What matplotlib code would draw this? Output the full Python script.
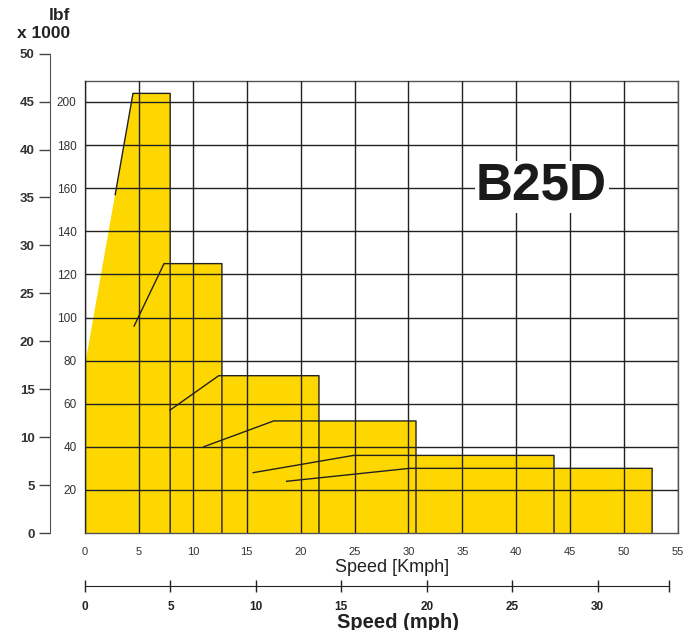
import numpy as np
import matplotlib.pyplot as plt

plt.rcParams['font.family'] = ['Liberation Sans', 'DejaVu Sans']

# data: tractive force per gear (kN) vs speed (km/h)
gear_end_kmph = [7.9, 12.7, 21.7, 30.7, 43.5, 52.6]
gear_top_kn = [204, 125, 73, 52, 36, 30]
curve_start_kmph = [2.8, 4.55, 7.88, 11.0, 15.6, 18.7]
curve_start_kn = [157, 96, 57, 40, 28, 24]
curve_knee_kmph = [4.45, 7.33, 12.4, 17.5, 24.9, 30.1]
fill_left_kn = 78  # force at 0 km/h on the left edge of the yellow area

kn_ticks = list(range(20, 201, 20))
kmph_ticks = list(range(0, 56, 5))
klbf_ticks = list(range(0, 51, 5))
mph_ticks = [0, 5, 10, 15, 20, 25, 30]

KN_PER_KLBF = 4.44822
KMPH_PER_MPH = 1.609344

W, H = 690, 630
fig = plt.figure(figsize=(W / 100, H / 100), dpi=100)

x0, x1 = 85, 678
y_bot, y_top = 533, 81
px_per_kn = 2.155
ymax = (y_bot - y_top) / px_per_kn

ax = fig.add_axes([x0 / W, (H - y_bot) / H, (x1 - x0) / W, (y_bot - y_top) / H])
ax.set_xlim(0, 55)
ax.set_ylim(0, ymax)

yellow = '#FFD700'
dark = '#222222'

# yellow area: first gear is a wedge, the others a staircase to its right
ax.fill([0, 0, curve_knee_kmph[0], gear_end_kmph[0], gear_end_kmph[0]],
        [0, fill_left_kn, gear_top_kn[0], gear_top_kn[0], 0],
        color=yellow, lw=0, zorder=1)
for xs, xe, yt in zip(gear_end_kmph[:-1], gear_end_kmph[1:], gear_top_kn[1:]):
    ax.fill([xs, xs, xe, xe], [0, yt, yt, 0], color=yellow, lw=0, zorder=1)

# gear curves
for xs, ys, xk, xe, yt in zip(curve_start_kmph, curve_start_kn, curve_knee_kmph,
                              gear_end_kmph, gear_top_kn):
    ax.plot([xs, xk, xe, xe], [ys, yt, yt, 0], color=dark, lw=1.0, zorder=2)

ax.set_xticks(kmph_ticks)
ax.set_yticks(kn_ticks)
ax.grid(True, color=dark, lw=1.0)
ax.set_axisbelow(False)
ax.tick_params(length=0, labelsize=8, labelcolor='#333333')
ax.tick_params(axis='x', pad=10)
ax.tick_params(axis='y', pad=6, labelsize=8.5)
for s in ax.spines.values():
    s.set_color('#555555')
    s.set_linewidth(1.0)

ax.text(42.35, 154.5, 'B25D', fontsize=37, fontweight='bold', ha='center', va='baseline',
        color='#1a1a1a', zorder=5,
        bbox=dict(facecolor='white', edgecolor='none', pad=1))

# lbf axis on the far left
lbf_h = 50 * KN_PER_KLBF * px_per_kn
axl = fig.add_axes([50 / W, (H - y_bot) / H, 0.001, lbf_h / H])
axl.set_ylim(0, 50)
axl.set_yticks(klbf_ticks)
axl.set_xticks([])
for k in ['top', 'right', 'bottom']:
    axl.spines[k].set_visible(False)
axl.spines['left'].set_color('#555555')
axl.patch.set_visible(False)
axl.tick_params(axis='y', direction='out', length=8, width=1, color='#444444',
                labelsize=9.5, pad=3, labelcolor='#333333')
for lab in axl.get_yticklabels():
    lab.set_fontweight('bold')

fig.text(70 / W, 1 - 16 / H, 'lbf', fontsize=12.5, fontweight='bold', ha='right', va='center', color='#222222')
fig.text(70 / W, 1 - 34 / H, 'x 1000', fontsize=12.5, fontweight='bold', ha='right', va='center', color='#222222')

# mph axis
mph_max = 55 / KMPH_PER_MPH
axm = fig.add_axes([x0 / W, (H - 586) / H, (669 - x0) / W, 0.001])
axm.set_xlim(0, mph_max)
axm.set_xticks(mph_ticks + [mph_max])
axm.set_xticklabels([str(t) for t in mph_ticks] + [''])
axm.set_yticks([])
for k in ['top', 'right', 'left']:
    axm.spines[k].set_visible(False)
axm.spines['bottom'].set_color(dark)
axm.patch.set_visible(False)
axm.tick_params(axis='x', direction='inout', length=9, width=1, color=dark,
                labelsize=8.5, pad=6, labelcolor='#222222')
for lab in axm.get_xticklabels():
    lab.set_fontweight('bold')

fig.text(392 / W, 1 - 567 / H, 'Speed [Kmph]', fontsize=13, ha='center', va='center', color='#222222')
fig.text(398 / W, 1 - 622 / H, 'Speed (mph)', fontsize=14.5, fontweight='bold', ha='center', va='center', color='#222222')

fig.savefig('out.png', dpi=100)
